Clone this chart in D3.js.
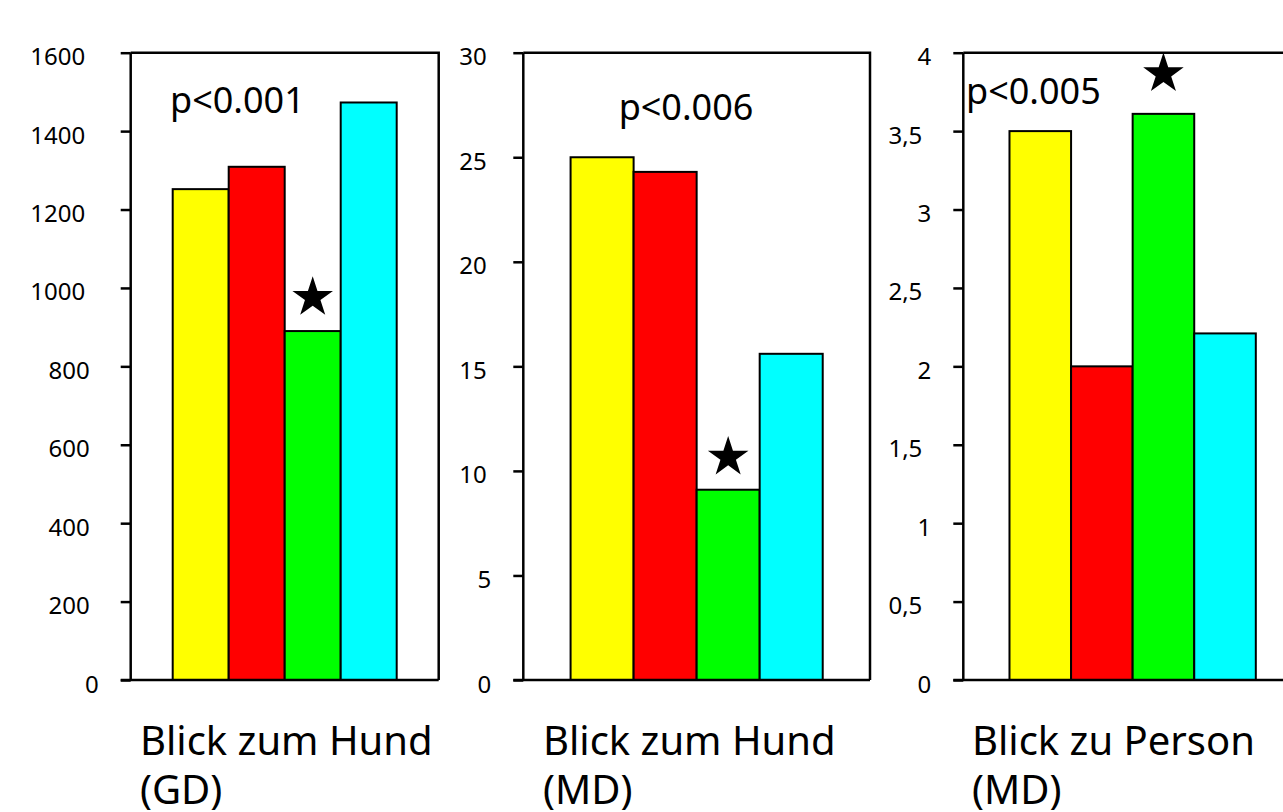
<!DOCTYPE html>
<html>
<head>
<meta charset="utf-8">
<script src="https://cdn.jsdelivr.net/npm/d3@7"></script>
<style>
  body { margin: 0; background: #fff; }
  text { font-family: "Noto Sans", "Open Sans", sans-serif; fill: #000; }
</style>
</head>
<body>
<script>
let width = 1283;
let height = 812;
let plotTop = 52.7;
let plotBottom = 680;

// data
var groups = ['A', 'B', 'C', 'D'];
var barColors = ['#ffff00', '#ff0000', '#00ff00', '#00ffff'];

var titles = [['Blick zum Hund', '(GD)'], ['Blick zum Hund', '(MD)'], ['Blick zu Person', '(MD)']];
var pLabels = ['p<0.001', 'p<0.006', 'p<0.005'];

var hundGD = [1252, 1309, 890, 1473];
var hundMD = [25.0, 24.3, 9.1, 15.6];
var personMD = [3.5, 2.0, 3.61, 2.21];

var yMax = [1600, 30, 4];
var ticksGD = [0, 200, 400, 600, 800, 1000, 1200, 1400, 1600];
var ticksHund = [0, 5, 10, 15, 20, 25, 30];
var ticksPerson = [0, 0.5, 1, 1.5, 2, 2.5, 3, 3.5, 4];
var starBar = ['C', 'C', 'C'];

var seriesList = [hundGD, hundMD, personMD];
var tickList = [ticksGD, ticksHund, ticksPerson];

// layout per panel
var panels = [
  { x0: 130.7, x1: 438.7, px: 170, py: 113, anchor: 'start', starOff: 33.5, tx: 140 },
  { x0: 523.3, x1: 870, px: 686, py: 120, anchor: 'middle', starOff: 32.5, tx: 543 },
  { x0: 963.3, x1: 1302, px: 966, py: 104, anchor: 'start', starOff: 40, tx: 972 }
];

var svg = d3.select('body')
            .append('svg')
            .attr('width', width)
            .attr('height', height);

var fmt = function(d) { return String(d).replace('.', ','); };

panels.forEach(function(p, i) {
  var values = seriesList[i];

  var x = d3.scaleBand().domain(groups).range([p.x0, p.x1])
      .paddingInner(0).paddingOuter(0.75);
  var y = d3.scaleLinear().domain([0, yMax[i]]).range([plotBottom, plotTop]);

  var g = svg.append('g');

  // bars
  g.selectAll('rect.bar').data(groups).enter().append('rect')
    .attr('class', 'bar')
    .attr('x', function(d) { return x(d); })
    .attr('width', x.bandwidth())
    .attr('y', function(d, j) { return y(values[j]); })
    .attr('height', function(d, j) { return plotBottom - y(values[j]); })
    .attr('fill', function(d, j) { return barColors[j]; })
    .attr('stroke', '#000')
    .attr('stroke-width', 2);

  // frame (top and right)
  g.append('path')
    .attr('d', 'M' + p.x0 + ',' + plotTop + 'H' + p.x1 + 'V' + plotBottom)
    .attr('fill', 'none').attr('stroke', '#000').attr('stroke-width', 2.5);

  // bottom line
  g.append('line')
    .attr('x1', p.x0 - 10).attr('x2', p.x1)
    .attr('y1', plotBottom).attr('y2', plotBottom)
    .attr('stroke', '#000').attr('stroke-width', 2.5);

  // y axis
  var axis = g.append('g')
    .attr('transform', 'translate(' + p.x0 + ',0)')
    .call(d3.axisLeft(y).tickValues(tickList[i]).tickSize(10).tickSizeOuter(0).tickFormat(fmt));

  axis.select('.domain').attr('stroke', '#000').attr('stroke-width', 2.5)
    .attr('d', 'M0,' + plotTop + 'V' + plotBottom);
  axis.selectAll('.tick line').attr('stroke', '#000').attr('stroke-width', 2.5);
  axis.selectAll('.tick text')
    .attr('x', function(d) { return -(10 + 22 + 4.5 * (fmt(d).length - 1)); })
    .attr('dy', '12px')
    .attr('font-size', '24px')
    .style('font-family', '"Noto Sans", sans-serif')
    .attr('fill', '#000');

  // p label
  g.append('text')
    .attr('x', p.px).attr('y', p.py)
    .attr('text-anchor', p.anchor)
    .attr('font-size', '36px')
    .text(pLabels[i]);

  // star
  var sj = groups.indexOf(starBar[i]);
  g.append('path')
    .attr('d', d3.symbol().type(d3.symbolStar).size(510)())
    .attr('transform', 'translate(' + (x(starBar[i]) + x.bandwidth() / 2) + ',' + (y(values[sj]) - p.starOff) + ')')
    .attr('fill', '#000');

  // title, two lines
  g.append('text')
    .attr('x', p.tx).attr('y', 755)
    .attr('font-size', '40px')
    .text(titles[i][0]);
  g.append('text')
    .attr('x', p.tx).attr('y', 804)
    .attr('font-size', '40px')
    .text(titles[i][1]);
});
</script>
</body>
</html>
